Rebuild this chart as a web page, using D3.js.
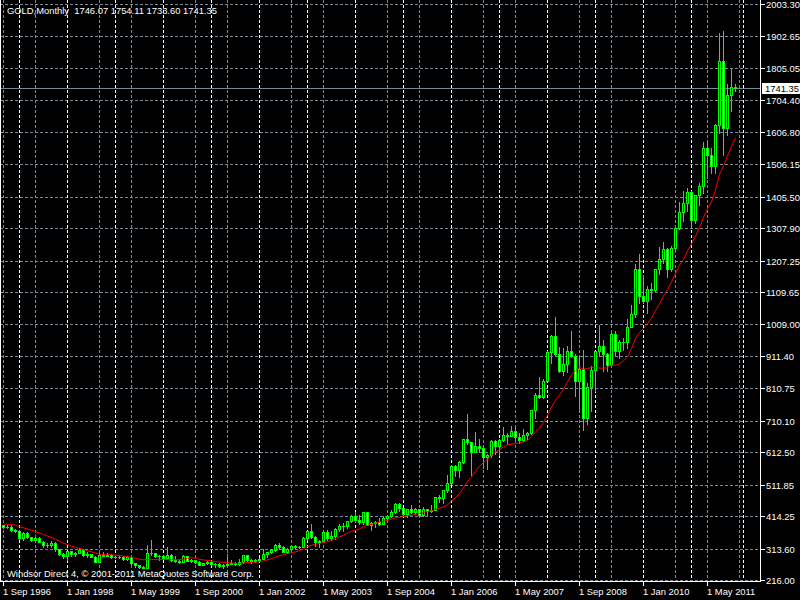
<!DOCTYPE html>
<html><head><meta charset="utf-8">
<script src="https://cdn.jsdelivr.net/npm/d3@7"></script>
<style>
html,body{margin:0;padding:0;background:#000;}
svg{display:block;}
text{font-family:"Liberation Sans",Arial,sans-serif;font-size:9.4px;fill:#fff;}
</style></head><body>
<svg id="chart" width="800" height="600"></svg>
<script>
// ---- data (monthly GOLD, Sep 1996 .. Dec 2011) ----
const startMonth = "1996-09";
const opens = [
387,379,380,371,
369,345,362,349,340,345,335,326,325,332,311,296,
289,305,297,301,310,294,296,288,273,294,292,294,
288,287,287,280,286,268,262,255,254,299,299,292,
290,283,293,277,274,272,289,276,278,273,264,269,
273,265,267,258,264,267,270,265,273,293,278,275,
278,282,297,302,308,326,318,304,312,323,317,319,
347,367,348,334,336,364,346,354,375,385,384,398,
416,402,396,426,388,393,395,391,408,415,428,452,
438,422,435,428,435,417,436,429,433,473,470,495,
517,569,556,582,654,643,614,632,626,599,604,646,
632,650,665,663,679,659,650,665,673,743,789,783,
834,923,972,916,865,886,926,912,833,871,718,814,
869,928,942,917,883,979,927,955,955,1001,1040,1181,
1096,1081,1118,1115,1180,1212,1244,1181,1247,1307,1357,1385,
1421,1332,1410,1439,1556,1536,1500,1628,1825,1620,1722,1746.07];
const highs = [
388,386,386,374,
370,366,364,349,349,348,336,331,338,335,313,299,
307,306,303,316,311,302,298,290,299,302,300,297,
293,292,290,290,291,269,264,259,326,339,301,293,
293,317,296,289,278,293,292,282,278,275,270,275,
275,268,269,266,298,277,271,280,294,294,280,281,
283,312,304,311,328,330,320,316,326,324,323,349,
369,389,353,341,370,372,369,376,390,392,399,417,
427,419,427,428,397,398,409,416,418,433,456,456,
438,437,448,438,435,441,437,448,473,479,496,541,
574,573,586,654,730,643,676,652,632,606,649,650,
652,690,671,694,692,672,684,676,745,796,845,841,
928,975,1033,939,936,943,988,916,910,931,828,880,
928,1006,960,919,982,990,960,966,1025,1070,1195,1227,
1162,1128,1139,1180,1249,1265,1245,1252,1309,1388,1424,1431,
1424,1412,1447,1576,1577,1556,1632,1912,1921,1756,1803,1754.11];
const lows = [
378,376,368,366,
344,340,346,337,339,334,318,318,318,307,294,283,
277,290,291,300,292,288,286,271,272,289,290,283,
283,283,278,277,267,256,252,252,252,295,288,277,
280,281,276,272,270,271,275,271,269,263,263,267,
261,255,255,254,262,265,262,264,270,275,270,271,
276,281,286,299,307,312,302,300,311,311,315,317,
341,346,323,319,335,340,341,344,369,367,376,397,
397,390,391,386,371,380,388,389,398,412,424,429,
416,411,423,420,414,414,418,426,433,459,456,489,
515,538,535,580,637,543,613,612,562,560,598,607,
603,648,637,663,650,640,648,652,670,720,780,780,
834,888,913,860,851,860,908,786,740,681,700,741,
803,911,865,865,883,913,905,930,937,1001,1033,1076,
1075,1045,1088,1114,1165,1201,1157,1176,1242,1304,1330,1360,
1308,1323,1381,1418,1462,1478,1479,1603,1535,1596,1670,1733.60];
const closes = [
379,380,371,369,
345,362,349,340,345,335,326,325,332,311,296,289,
305,297,301,310,294,296,288,273,294,292,294,288,
287,287,280,286,268,262,255,254,299,299,292,290,
283,293,277,274,272,289,276,278,273,264,269,273,
265,267,258,264,267,270,265,273,293,278,275,278,
282,297,302,308,326,318,304,312,323,317,319,347,
367,348,334,336,364,346,354,375,385,384,398,416,
402,396,426,388,393,395,391,408,415,428,452,438,
422,435,428,435,417,436,429,433,473,470,495,517,
569,556,582,654,643,614,632,626,599,604,646,632,
650,665,663,679,659,650,665,673,743,789,783,834,
923,972,916,865,886,926,912,833,871,718,814,869,
928,942,917,883,979,927,955,955,1001,1040,1181,1096,
1081,1118,1115,1180,1212,1244,1181,1247,1307,1357,1385,1421,
1332,1410,1439,1556,1536,1500,1628,1825,1620,1722,1746,1741.35];
// closes of the 11 months before Sep 1996 (for the moving average)
const priorCloses = [383,387,387,405,400,396,392,391,382,385,386];
const maPeriod = 12;

const priceTicks = ["216.00","313.60","414.25","511.85","612.50","710.10","810.75","911.40","1009.00",
  "1109.65","1207.25","1307.90","1405.50","1506.15","1606.80","1704.40","1805.05","1902.65","2003.30"];
const dateLabels = ["1 Sep 1996","1 Jan 1998","1 May 1999","1 Sep 2000","1 Jan 2002","1 May 2003",
  "1 Sep 2004","1 Jan 2006","1 May 2007","1 Sep 2008","1 Jan 2010","1 May 2011"];
const headerText = "GOLD,Monthly  1746.07 1754.11 1733.60 1741.35";
const footerText = "Windsor Direct 4, \u00A9 2001-2011 MetaQuotes Software Corp.";
const lastPrice = 1741.35;

// ---- layout ----
const W = 800, H = 600;
const plotRight = 760, plotBottom = 580;
const svg = d3.select("#chart");
svg.append("rect").attr("width", W).attr("height", H).attr("fill", "#000");

const n = closes.length;
const x = d3.scaleLinear().domain([0, n - 1]).range([3, 3 + 4 * (n - 1)]);
const y = d3.scaleLinear().domain([216, 2003.3]).range([580, 4]);
const px = v => Math.round(x(v)) + 0.5;
const py = v => Math.round(y(v)) + 0.5;

const months = d3.range(n + 2).map(i => d3.timeMonth.offset(d3.timeParse("%Y-%m")(startMonth), i));

const GRID = "#778899";
const g = svg.append("g");

// horizontal grid
g.selectAll("line.hg").data(priceTicks).join("line")
  .attr("x1", 0).attr("x2", plotRight).attr("y1", d => py(+d)).attr("y2", d => py(+d))
  .attr("stroke", GRID).attr("stroke-dasharray", "3,2");
// vertical grid (every 8 bars)
const vGrid = d3.range(0, n + 1, 8);
g.selectAll("line.vg").data(vGrid).join("line")
  .attr("x1", d => px(d)).attr("x2", d => px(d)).attr("y1", 0).attr("y2", plotBottom)
  .attr("stroke", GRID).attr("stroke-dasharray", "3,2");
// yearly separators
const sepIdx = d3.range(n).filter(i => months[i].getMonth() === 0).concat([n + 1]);
g.selectAll("line.sep").data(sepIdx).join("line")
  .attr("x1", d => px(d)).attr("x2", d => px(d)).attr("y1", 0).attr("y2", plotBottom)
  .attr("stroke", "#fff").attr("stroke-dasharray", "3,2");

// current price line
g.append("line").attr("x1", 0).attr("x2", plotRight)
  .attr("y1", py(lastPrice)).attr("y2", py(lastPrice)).attr("stroke", GRID);

// candles
const bars = d3.range(n).map(i => ({i, o: opens[i], h: highs[i], l: lows[i], c: closes[i]}));
const cg = g.append("g");
bars.forEach(b => {
  const cx = Math.round(x(b.i));
  cg.append("line").attr("x1", cx + 0.5).attr("x2", cx + 0.5)
    .attr("y1", Math.round(y(b.h))).attr("y2", Math.round(y(b.l)) + 1)
    .attr("stroke", "#00ff00");
  const t = Math.round(y(Math.max(b.o, b.c))), bt = Math.round(y(Math.min(b.o, b.c)));
  if (bt - t < 1) {
    cg.append("line").attr("x1", cx - 1).attr("x2", cx + 2).attr("y1", t + 0.5).attr("y2", t + 0.5)
      .attr("stroke", "#00ff00");
  } else {
    cg.append("rect").attr("x", cx - 0.5).attr("y", t + 0.5).attr("width", 2).attr("height", bt - t)
      .attr("fill", b.c > b.o ? "#000" : "#fff").attr("stroke", "#00ff00");
  }
});

// moving average (simple, close)
const allCloses = priorCloses.concat(closes);
const ma = closes.map((c, i) => d3.mean(allCloses.slice(i, i + maPeriod)));
g.append("path").datum(ma)
  .attr("d", d3.line().x((d, i) => x(i) + 0.5).y(d => y(d)))
  .attr("fill", "none").attr("stroke", "#ff0000").attr("stroke-width", 1);

// frame
g.append("line").attr("x1", 0.5).attr("x2", 0.5).attr("y1", 0).attr("y2", plotBottom + 1).attr("stroke", "#fff");
g.append("line").attr("x1", plotRight + 0.5).attr("x2", plotRight + 0.5).attr("y1", 0).attr("y2", plotBottom + 1).attr("stroke", "#fff");
g.append("line").attr("x1", 0).attr("x2", plotRight + 1).attr("y1", plotBottom + 1.5).attr("y2", plotBottom + 1.5).attr("stroke", "#fff");

// right axis ticks + labels
priceTicks.forEach(t => {
  const yy = py(+t);
  g.append("line").attr("x1", plotRight + 1).attr("x2", plotRight + 5).attr("y1", yy).attr("y2", yy).attr("stroke", "#fff");
  g.append("text").attr("x", 766).attr("y", yy).attr("dy", "0.35em").text(t);
});
// last price tag
g.append("rect").attr("x", 762).attr("y", py(lastPrice) - 5.5).attr("width", 38).attr("height", 11).attr("fill", "#fff");
g.append("text").attr("x", 765).attr("y", py(lastPrice)).attr("dy", "0.35em").style("fill", "#000").text(lastPrice.toFixed(2));

// bottom date labels (every 16 bars)
dateLabels.forEach((lab, k) => {
  const xx = px(k * 16);
  g.append("line").attr("x1", xx).attr("x2", xx).attr("y1", plotBottom + 2).attr("y2", plotBottom + 6).attr("stroke", "#fff");
  g.append("text").attr("x", xx - 0.5).attr("y", 595).text(lab);
});

// header and footer
g.append("text").attr("x", 7).attr("y", 14).text(headerText).attr("xml:space", "preserve").style("white-space", "pre");
g.append("text").attr("x", 7).attr("y", 577).text(footerText);
</script></body></html>
